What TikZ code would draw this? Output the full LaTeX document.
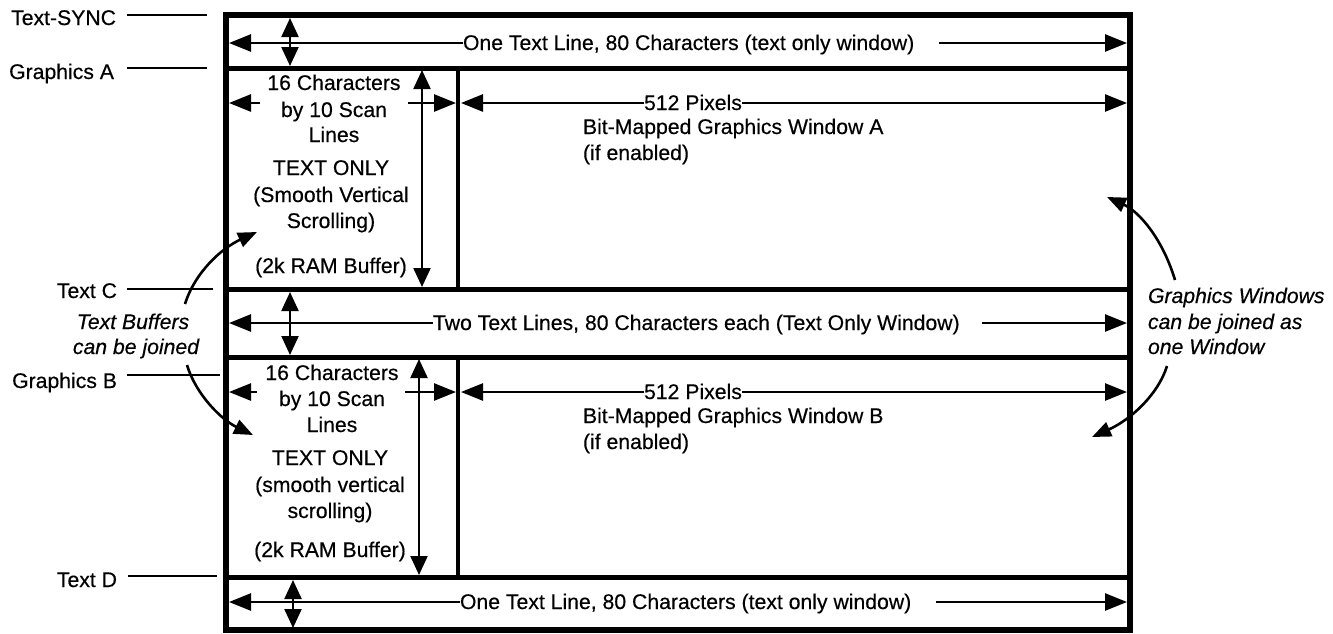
\documentclass[tikz,border=0pt]{standalone}
\usepackage{fontspec}
\setmainfont[FakeBold=0.4]{Liberation Sans}
\usetikzlibrary{arrows.meta}
\begin{document}
\begin{tikzpicture}[x=1pt,y=-1pt,
  every node/.style={inner sep=0pt, outer sep=0pt, font=\fontsize{21.2}{26}\selectfont},
  txt/.style={anchor=base},
  txtw/.style={anchor=base west},
  lab/.style={anchor=base east},
  note/.style={anchor=base, font=\fontsize{21.2}{26}\selectfont\itshape},
  notew/.style={anchor=base west, font=\fontsize{21.2}{26}\selectfont\itshape},
  frame/.style={line width=6pt},
  sep/.style={line width=5pt},
  divider/.style={line width=4.5pt},
  tick/.style={line width=2.5pt},
  arr/.style={line width=2.6pt, -{Triangle[length=22pt,width=17pt]}},
  darr/.style={line width=2.2pt, {Triangle[length=19pt,width=17pt]}-{Triangle[length=19pt,width=17pt]}},
  curv/.style={line width=2.6pt, -{Triangle[length=19pt,width=15pt]}}
]
\useasboundingbox (0,0) rectangle (1333,633);

% ---------- frame ----------
\draw[frame] (226,15) rectangle (1130,630);
\coordinate (sAL) at (226,68);  \coordinate (sAR) at (1130,68);
\coordinate (sCL) at (226,289); \coordinate (sCR) at (1130,289);
\coordinate (sBL) at (226,357); \coordinate (sBR) at (1130,357);
\coordinate (sDL) at (226,577); \coordinate (sDR) at (1130,577);
\draw[sep] (sAL) -- (sAR);
\draw[sep] (sCL) -- (sCR);
\draw[sep] (sBL) -- (sBR);
\draw[sep] (sDL) -- (sDR);
\coordinate (dAt) at (458,68);  \coordinate (dAb) at (458,289);
\coordinate (dBt) at (458,357); \coordinate (dBb) at (458,577);
\draw[divider] (dAt) -- (dAb);
\draw[divider] (dBt) -- (dBb);

% ---------- left labels ----------
\node[lab] (lTS) at (116,25) {Text-SYNC};
\node[lab] (lGA) at (114,79) {Graphics A};
\node[lab] (lTC) at (117,298) {Text C};
\node[lab] (lGB) at (117,388) {Graphics B};
\node[lab] (lTD) at (117,587) {Text D};
\coordinate (kTSa) at (127,15);  \coordinate (kTSb) at (207,15);
\coordinate (kGAa) at (127,68);  \coordinate (kGAb) at (207,68);
\coordinate (kTCa) at (127,289); \coordinate (kTCb) at (213,289);
\coordinate (kGBa) at (127,375); \coordinate (kGBb) at (220,375);
\coordinate (kTDa) at (128,576); \coordinate (kTDb) at (217,576);
\draw[tick] (kTSa) -- (kTSb);
\draw[tick] (kGAa) -- (kGAb);
\draw[tick] (kTCa) -- (kTCb);
\draw[tick] (kGBa) -- (kGBb);
\draw[tick] (kTDa) -- (kTDb);

% ---------- row 1 : Text-SYNC ----------
\node[txtw] (r1) at (463,50) {One Text Line, 80 Characters (text only window)};
\coordinate (r1L) at (229,43); \coordinate (r1R) at (1127,43);
\draw[arr] (r1.west |- r1L) -- (r1L);
\draw[arr] ([xshift=25pt]r1.east |- r1R) -- (r1R);
\coordinate (v1t) at (290,18); \coordinate (v1b) at (290,66);
\draw[darr] (v1t) -- (v1b);

% ---------- row 2 : Graphics A ----------
\node[txt] (a1) at (334,90) {16 Characters};
\node[txt] (a2) at (334,117) {by 10 Scan};
\node[txt] (a3) at (334,142) {Lines};
\node[txt] (a4) at (331,175) {TEXT ONLY};
\node[txt] (a5) at (331,202) {(Smooth Vertical};
\node[txt] (a6) at (331,228) {Scrolling)};
\node[txt] (a7) at (331,273) {(2k RAM Buffer)};
\coordinate (aLl) at (229,103); \coordinate (aLs) at (260,103);
\coordinate (aRs) at (408,103); \coordinate (aRt) at (456,103);
\draw[arr] (aLs) -- (aLl);
\draw[arr] (aRs) -- (aRt);
\coordinate (v2t) at (422,70); \coordinate (v2b) at (422,287);
\draw[darr] (v2t) -- (v2b);
\node[txt] (pA) at (693,110) {512 Pixels};
\coordinate (pAL) at (461,103); \coordinate (pAR) at (1127,103);
\draw[arr] (pA.west |- pAL) -- (pAL);
\draw[arr] (pA.east |- pAR) -- (pAR);
\node[txtw] (gA1) at (583,134) {Bit-Mapped Graphics Window A};
\node[txtw] (gA2) at (583,160) {(if enabled)};

% ---------- row 3 : Text C ----------
\node[txtw] (r3) at (433,330) {Two Text Lines, 80 Characters each (Text Only Window)};
\coordinate (r3L) at (229,323); \coordinate (r3R) at (1127,323);
\draw[arr] (r3.west |- r3L) -- (r3L);
\draw[arr] ([xshift=22pt]r3.east |- r3R) -- (r3R);
\coordinate (v3t) at (290,292); \coordinate (v3b) at (290,355);
\draw[darr] (v3t) -- (v3b);

% ---------- row 4 : Graphics B ----------
\node[txt] (b1) at (332,380) {16 Characters};
\node[txt] (b2) at (332,406) {by 10 Scan};
\node[txt] (b3) at (332,432) {Lines};
\node[txt] (b4) at (330,465) {TEXT ONLY};
\node[txt] (b5) at (330,492) {(smooth vertical};
\node[txt] (b6) at (330,518) {scrolling)};
\node[txt] (b7) at (330,557) {(2k RAM Buffer)};
\coordinate (bLl) at (229,392); \coordinate (bLs) at (257,392);
\coordinate (bRs) at (405,392); \coordinate (bRt) at (456,392);
\draw[arr] (bLs) -- (bLl);
\draw[arr] (bRs) -- (bRt);
\coordinate (v4t) at (419,359); \coordinate (v4b) at (419,575);
\draw[darr] (v4t) -- (v4b);
\node[txt] (pB) at (693,399) {512 Pixels};
\coordinate (pBL) at (461,392); \coordinate (pBR) at (1127,392);
\draw[arr] (pB.west |- pBL) -- (pBL);
\draw[arr] (pB.east |- pBR) -- (pBR);
\node[txtw] (gB1) at (583,423) {Bit-Mapped Graphics Window B};
\node[txtw] (gB2) at (583,449) {(if enabled)};

% ---------- row 5 : Text D ----------
\node[txtw] (r5) at (460,609) {One Text Line, 80 Characters (text only window)};
\coordinate (r5L) at (229,602); \coordinate (r5R) at (1127,602);
\draw[arr] (r5.west |- r5L) -- (r5L);
\draw[arr] ([xshift=25pt]r5.east |- r5R) -- (r5R);
\coordinate (v5t) at (293,580); \coordinate (v5b) at (293,628);
\draw[darr] (v5t) -- (v5b);

% ---------- notes ----------
\node[note] (tb1) at (133,329) {Text Buffers};
\node[note] (tb2) at (136,354) {can be joined};
\coordinate (tbU) at (185,304); \coordinate (tbUt) at (257,232);
\coordinate (tbD) at (187,365); \coordinate (tbDt) at (253,435);
\draw[curv] (tbU) .. controls (195,272) and (222,248) .. (tbUt);
\draw[curv] (tbD) .. controls (196,395) and (222,420) .. (tbDt);

\node[notew] (gw1) at (1148,303) {Graphics Windows};
\node[notew] (gw2) at (1148,329) {can be joined as};
\node[notew] (gw3) at (1148,354) {one Window};
\coordinate (gwU) at (1175,280); \coordinate (gwUt) at (1107,197);
\coordinate (gwD) at (1167,366); \coordinate (gwDt) at (1092,437);
\draw[curv] (gwU) .. controls (1163,240) and (1140,212) .. (gwUt);
\draw[curv] (gwD) .. controls (1158,395) and (1130,420) .. (gwDt);
\end{tikzpicture}
\end{document}
